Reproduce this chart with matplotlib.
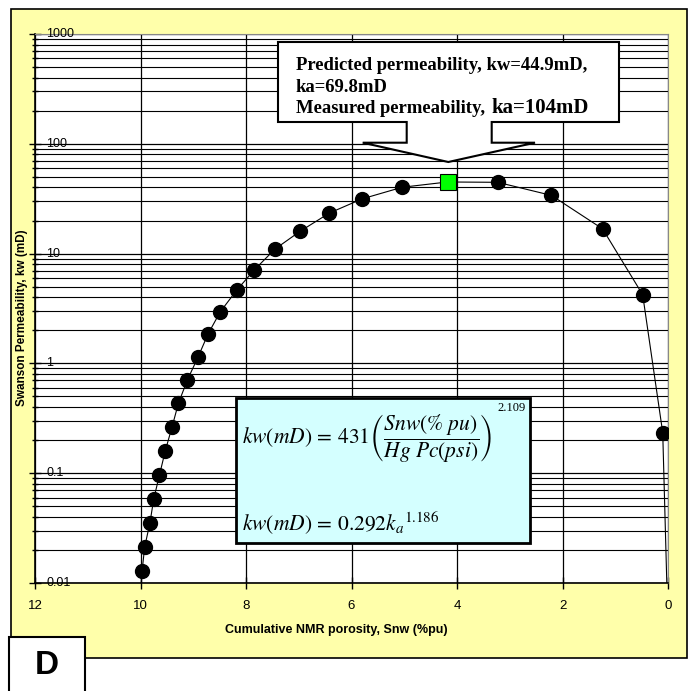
import matplotlib
matplotlib.use('Agg')

import numpy as np
import matplotlib.pyplot as plt
from matplotlib.patches import Rectangle, Polygon
from matplotlib.transforms import blended_transform_factory

# datos
snw = [10.0, 9.97, 9.92, 9.82, 9.75, 9.64, 9.53, 9.40, 9.28, 9.11, 8.91, 8.72, 8.49,
       8.18, 7.84, 7.45, 6.98, 6.42, 5.80, 5.04, 4.18, 3.23, 2.21, 1.24, 0.48, 0.10, 0.0]
kw = [0.008, 0.0129, 0.0214, 0.0355, 0.058, 0.0965, 0.160, 0.266, 0.435, 0.709, 1.14, 1.85, 2.94,
      4.62, 7.13, 11.0, 15.9, 23.4, 31.5, 40.2, 44.9, 44.6, 33.9, 16.8, 4.22, 0.234, 0.004]
pred_snw = [4.18]
pred_kw = [44.9]

xticks = [12, 10, 8, 6, 4, 2, 0]
yticks = [0.01, 0.1, 1, 10, 100, 1000]
ylabels = ['0.01', '0.1', '1', '10', '100', '1000']

W, H = 694, 691
plt.rcParams['font.family'] = ['Liberation Sans', 'DejaVu Sans']
plt.rcParams['mathtext.fontset'] = 'stix'

fig = plt.figure(figsize=(W / 100, H / 100), dpi=100)


def fx(px):
    return px / W


def fy(py):
    return 1 - py / H


# panel amarillo
fig.add_artist(Rectangle((fx(11), fy(658)), fx(687) - fx(11), fy(9) - fy(658),
                         transform=fig.transFigure, facecolor='#FFFFAA',
                         edgecolor='black', lw=1.2, zorder=-1))

ax = fig.add_axes([fx(35), fy(583), fx(668) - fx(35), fy(34) - fy(583)])
ax.set_facecolor('white')
ax.set_yscale('log')
ax.set_xlim(12, 0)
ax.set_ylim(0.01, 1000)

ax.plot(snw, kw, color='black', lw=0.8, marker='o', markersize=10,
        markerfacecolor='black', markeredgecolor='black', zorder=3)
ax.plot(pred_snw, pred_kw, linestyle='none', marker='s', markersize=11,
        markerfacecolor='#00FF00', markeredgecolor='black', markeredgewidth=0.8, zorder=4)

ax.set_xticks(xticks)
ax.set_xticklabels([str(t) for t in xticks], fontsize=9.5)
ax.set_yticks(yticks)
ax.set_yticklabels([])
ax.tick_params(axis='x', direction='inout', length=8, width=1, pad=8)
ax.tick_params(axis='y', which='major', direction='inout', length=8, width=1)
ax.tick_params(axis='y', which='minor', direction='inout', length=4, width=1)
ax.yaxis.set_minor_locator(matplotlib.ticker.LogLocator(base=10, subs=np.arange(2, 10)))
ax.yaxis.set_minor_formatter(matplotlib.ticker.NullFormatter())

ax.grid(True, which='major', axis='both', color='black', lw=0.9)
ax.grid(True, which='minor', axis='y', color='black', lw=0.8)
ax.set_axisbelow(True)

for s in ['top', 'right']:
    ax.spines[s].set_color('#888888')
ax.spines['left'].set_linewidth(1.2)
ax.spines['bottom'].set_linewidth(1.2)

# etiquetas del eje y dentro del area
trans = blended_transform_factory(ax.transAxes, ax.transData)
for v, lab in zip(yticks, ylabels):
    ax.text(0.0175, v, lab, transform=trans, ha='left', va='center', fontsize=9)

fig.text(fx(336), fy(630), 'Cumulative NMR porosity, Snw (%pu)', ha='center', va='center',
         fontsize=9, fontweight='bold')
fig.text(fx(22), fy(318), 'Swanson Permeability, kw (mD)', rotation=90, ha='center',
         va='center', fontsize=8.5, fontweight='bold')

# globo de texto
pts = [(278, 42), (619, 42), (619, 122), (491.7, 122), (491.7, 142.7), (535, 142.7),
       (448.3, 162), (362.7, 142.7), (406.7, 142.7), (406.7, 122), (278, 122)]
fig.add_artist(Polygon([(fx(a), fy(b)) for a, b in pts], closed=True, transform=fig.transFigure,
                       facecolor='white', edgecolor='black', lw=1.5, zorder=5))
serif = ['Liberation Serif', 'DejaVu Serif']
fig.text(fx(296), fy(70), 'Predicted permeability, kw=44.9mD,', family=serif,
         fontweight='bold', fontsize=13.4, va='baseline', zorder=6)
fig.text(fx(296), fy(92), 'ka=69.8mD', family=serif,
         fontweight='bold', fontsize=13.4, va='baseline', zorder=6)
fig.text(fx(296), fy(113), 'Measured permeability, ', family=serif,
         fontweight='bold', fontsize=13.4, va='baseline', zorder=6)
fig.text(fx(491), fy(113), 'ka=104mD', family=serif,
         fontweight='bold', fontsize=15, va='baseline', zorder=6)

# caja de ecuaciones
fig.add_artist(Rectangle((fx(236), fy(543)), fx(530) - fx(236), fy(398) - fy(543),
                         transform=fig.transFigure, facecolor='#D4FFFF',
                         edgecolor='black', lw=2, zorder=5))
fig.text(fx(242), fy(443),
         r'$kw(mD)\,=\,431\left(\dfrac{Snw(\mathrm{\%}\ pu)}{Hg\ Pc(psi)}\right)$',
         fontsize=15.5, va='baseline', zorder=6)
fig.text(fx(497), fy(408), '2.109', family=serif, fontsize=9, va='center', zorder=6)
fig.text(fx(242), fy(530), r'$kw(mD)\,=\,0.292k_a{}^{1.186}$',
         fontsize=15.5, va='baseline', zorder=6)

# recuadro D
fig.add_artist(Rectangle((fx(9), fy(700)), fx(85) - fx(9), fy(637) - fy(700),
                         transform=fig.transFigure, facecolor='white',
                         edgecolor='black', lw=1.5, zorder=5))
fig.text(fx(47), fy(665), 'D', fontsize=24, fontweight='bold', ha='center',
         va='center', zorder=6)

fig.savefig('out.png', dpi=100)
